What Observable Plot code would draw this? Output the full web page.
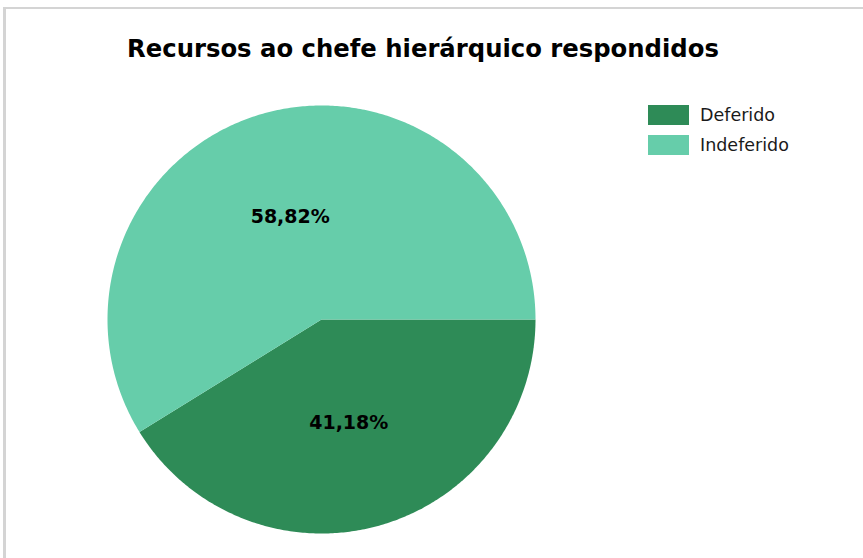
<!DOCTYPE html>
<html>
<head>
<meta charset="utf-8">
<script src="https://cdn.jsdelivr.net/npm/d3@7"></script>
<script src="https://cdn.jsdelivr.net/npm/@observablehq/plot@0.6"></script>
<style>
  html, body { margin: 0; padding: 0; background: #fff; }
  #wrap { position: relative; width: 863px; height: 558px; overflow: hidden; }
  #frame { position: absolute; left: 3px; top: 7px; right: -10px; bottom: -10px;
           border-left: 3px solid #d4d4d4; border-top: 2px solid #d4d4d4; }
  #title { position: absolute; left: 0; top: 34px; width: 846px; text-align: center;
           font-family: "DejaVu Sans", sans-serif; font-weight: bold; font-size: 24.3px; color: #000; }
  #legend { position: absolute; left: 648px; top: 100px; font-family: "DejaVu Sans", sans-serif;
            font-size: 17.5px; color: #1a1a1a; }
  .item { display: flex; align-items: center; height: 30px; }
  .sw { width: 41px; height: 20px; margin-right: 11px; }
  #chart { position: absolute; left: 0; top: 0; }
</style>
</head>
<body>
<div id="wrap">
  <div id="frame"></div>
  <div id="chart"></div>
  <div id="title">Recursos ao chefe hierárquico respondidos</div>
  <div id="legend"></div>
</div>
<script>
const categories = ["Deferido", "Indeferido"];
const values = [41.18, 58.82];
const colors = ["#2e8b57", "#66cdaa"];
const valueLabels = ["41,18%", "58,82%"];

const pie = d3.pie().sort(null).startAngle(Math.PI / 2).endAngle(Math.PI / 2 + 2 * Math.PI);
const arcs = pie(values);

// polygon points per slice (unit radius)
const slicePts = [];
arcs.forEach((a, i) => {
  const n = Math.max(2, Math.ceil((a.endAngle - a.startAngle) / 0.01));
  slicePts.push({name: categories[i], x: 0, y: 0});
  for (let k = 0; k <= n; k++) {
    const t = a.startAngle + (a.endAngle - a.startAngle) * k / n;
    slicePts.push({name: categories[i], x: Math.sin(t), y: Math.cos(t)});
  }
  slicePts.push({name: categories[i], x: 0, y: 0});
});

const labelPts = arcs.map((a, i) => {
  const m = (a.startAngle + a.endAngle) / 2;
  return {name: categories[i], label: valueLabels[i], x: 0.5 * Math.sin(m), y: 0.5 * Math.cos(m)};
});

const chart = Plot.plot({
  width: 863,
  height: 558,
  marginLeft: 107,
  marginRight: 328,
  marginTop: 105,
  marginBottom: 25,
  x: {domain: [-1, 1], axis: null},
  y: {domain: [-1, 1], axis: null},
  color: {domain: categories, range: colors},
  style: {background: "transparent"},
  marks: [
    Plot.line(slicePts, {x: "x", y: "y", z: "name", fill: "name", stroke: "none", curve: "linear"}),
    Plot.text(labelPts, {x: "x", y: "y", dx: -2, text: "label", fill: "#000",
      fontFamily: "DejaVu Sans", fontWeight: "bold", fontSize: 19})
  ]
});
document.getElementById("chart").appendChild(chart);

const legend = document.getElementById("legend");
categories.forEach((c, i) => {
  const it = document.createElement("div");
  it.className = "item";
  const sw = document.createElement("div");
  sw.className = "sw";
  sw.style.background = colors[i];
  const tx = document.createElement("span");
  tx.textContent = c;
  it.appendChild(sw); it.appendChild(tx);
  legend.appendChild(it);
});
</script>
</body>
</html>
